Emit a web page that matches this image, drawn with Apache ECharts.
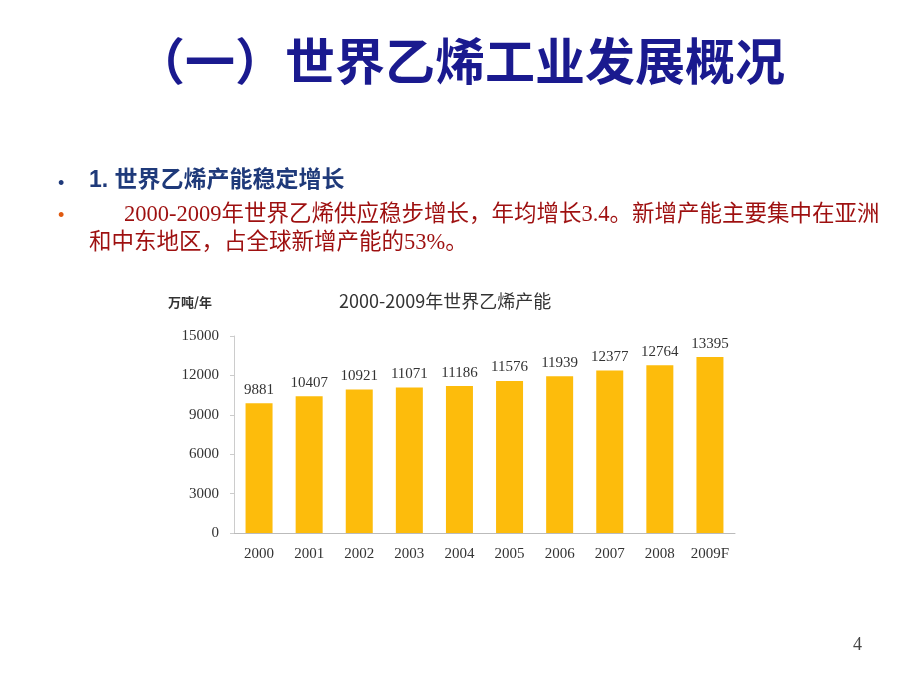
<!DOCTYPE html>
<html><head><meta charset="utf-8">
<script src="https://cdn.jsdelivr.net/npm/echarts@6/dist/echarts.min.js"></script>
<style>html,body{margin:0;padding:0;background:#fff}#c{width:920px;height:690px}</style>
</head><body><div id="c"></div>
<script>
const categories = ['2000','2001','2002','2003','2004','2005','2006','2007','2008','2009F'];
const capacity = [9881,10407,10921,11071,11186,11576,11939,12377,12764,13395];
const yTicks = [0,3000,6000,9000,12000,15000];

const chart = echarts.init(document.getElementById('c'));
const cjk = '"Noto Sans CJK SC", sans-serif';
chart.setOption({
  backgroundColor:'#fff',
  animation:false,
  title:[
    {text:'（一）世界乙烯工业发展概况', left:'center', top:31,
     textStyle:{fontFamily:cjk, fontSize:50, fontWeight:'bold', color:'#1a1a8f'}},
    {text:'2000-2009年世界乙烯产能', left:334, top:287,
     textStyle:{fontFamily:cjk, fontSize:18, fontWeight:'normal', color:'#333'}},
    {text:'万吨/年', left:163, top:291,
     textStyle:{fontFamily:cjk, fontSize:13, fontWeight:'bold', color:'#333'}}
  ],
  graphic:[
    {type:'text', left:58, top:175, style:{text:'•', font:'18px "Liberation Sans"', fill:'#1f3a7a'}},
    {type:'text', left:89, top:169, style:{text:'1. 世界乙烯产能稳定增长', font:'bold 23px "Liberation Sans", "Noto Sans CJK SC"', fill:'#1f3a7a'}},
    {type:'text', left:58, top:207, style:{text:'•', font:'18px "Liberation Sans"', fill:'#e05a10'}},
    {type:'text', left:124, top:204, style:{text:'2000-2009年世界乙烯供应稳步增长，年均增长3.4。新增产能主要集中在亚洲', font:'22.5px "Liberation Serif", "Noto Sans CJK SC"', fill:'#9e1010'}},
    {type:'text', left:89, top:232, style:{text:'和中东地区，占全球新增产能的53%。', font:'22.5px "Liberation Serif", "Noto Sans CJK SC"', fill:'#9e1010'}},
    {type:'text', left:853, top:636, style:{text:'4', font:'18px "Liberation Serif"', fill:'#444'}}
  ],
  grid:{left:234, right:185, top:336, bottom:157},
  xAxis:{type:'category', data:categories,
    axisLine:{lineStyle:{color:'#bbb'}},
    axisTick:{lineStyle:{color:'#bbb'}, length:4},
    axisLabel:{fontFamily:'"Liberation Serif"', fontSize:15, color:'#333', margin:14}},
  yAxis:{type:'value', min:yTicks[0], max:yTicks[yTicks.length-1], interval:3000,
    axisLine:{show:true, lineStyle:{color:'#ccc'}},
    axisTick:{show:true, lineStyle:{color:'#ccc'}, length:4},
    splitLine:{show:false},
    axisLabel:{fontFamily:'"Liberation Serif"', fontSize:15, color:'#333', margin:15, formatter:v=>String(v)}},
  series:[{type:'bar', data:capacity, barWidth:27,
    itemStyle:{color:'#FDBC0C'},
    label:{show:true, position:'top', distance:6, fontFamily:'"Liberation Serif"', fontSize:15, color:'#333'}}]
});
</script></body></html>
